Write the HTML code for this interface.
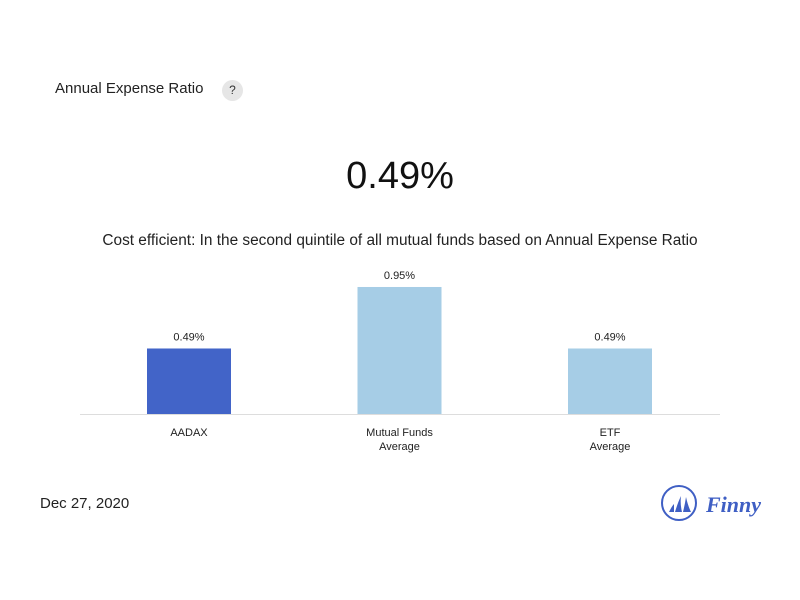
<!DOCTYPE html>
<html><head><meta charset="utf-8"><style>
body{margin:0;width:800px;height:600px;background:#fff;font-family:"Liberation Sans",sans-serif;position:relative;overflow:hidden;color:#222}
.a{position:absolute}
</style></head><body>
<div class="a" style="left:55px;top:80px;font-size:15px;color:#222">Annual Expense Ratio</div>
<div class="a" style="left:222px;top:80px;width:21px;height:21px;border-radius:50%;background:#e6e6e6;font-size:12px;text-align:center;line-height:21px;color:#333">?</div>
<div class="a" style="left:0;width:800px;top:155px;text-align:center;font-size:38px;color:#111">0.49%</div>
<div class="a" style="left:0;width:800px;top:232px;text-align:center;font-size:15.4px;color:#222">Cost efficient: In the second quintile of all mutual funds based on Annual Expense Ratio</div>
<svg class="a" style="left:0;top:0" width="800" height="600" id="chart"></svg>
<div class="a" style="left:40px;top:495px;font-size:15px;color:#222">Dec 27, 2020</div>
<svg class="a" style="left:660px;top:484px" width="105" height="40">
<circle cx="19" cy="19" r="17" fill="none" stroke="#3f5fc4" stroke-width="2"/>
<path d="M9 28 Q12 22 14 20 L14 28Z M15 28 Q18 18 21 12 Q20 20 22 28Z M23 28 Q25 20 26 13 Q28 22 31 28Z" fill="#3f5fc4"/>
<text x="46" y="28" font-size="22" font-style="italic" font-weight="bold" fill="#3f5fc4" font-family="Liberation Serif,serif">Finny</text>
</svg>
<script>
const categories=[["AADAX"],["Mutual Funds","Average"],["ETF","Average"]];
const values=[0.49,0.95,0.49];
const labels=["0.49%","0.95%","0.49%"];
const colors=["#4264c8","#a6cde6","#a6cde6"];
const svg=document.getElementById('chart');const NS="http://www.w3.org/2000/svg";
const base=414,scale=133.7,bw=84,c0=189,step=210.5;
const y=v=>base-v*scale, x=i=>c0+i*step;
function mk(t,a){const e=document.createElementNS(NS,t);for(const k in a)e.setAttribute(k,a[k]);svg.appendChild(e);return e;}
values.forEach((v,i)=>{
const r=mk('rect',{x:x(i)-bw/2,y:y(v),width:bw,height:v*scale,fill:colors[i]});


const t=mk('text',{x:x(i),y:y(v)-8,'text-anchor':'middle','font-size':'11',fill:'#222'});t.textContent=labels[i];


categories[i].forEach((s,j)=>{const c=mk('text',{x:x(i),y:436+j*14,'text-anchor':'middle','font-size':'11',fill:'#222'});c.textContent=s;

});
});
const l=mk('line',{x1:80,x2:720,y1:base+0.5,y2:base+0.5,stroke:'#ddd'});


</script>
</body></html>
